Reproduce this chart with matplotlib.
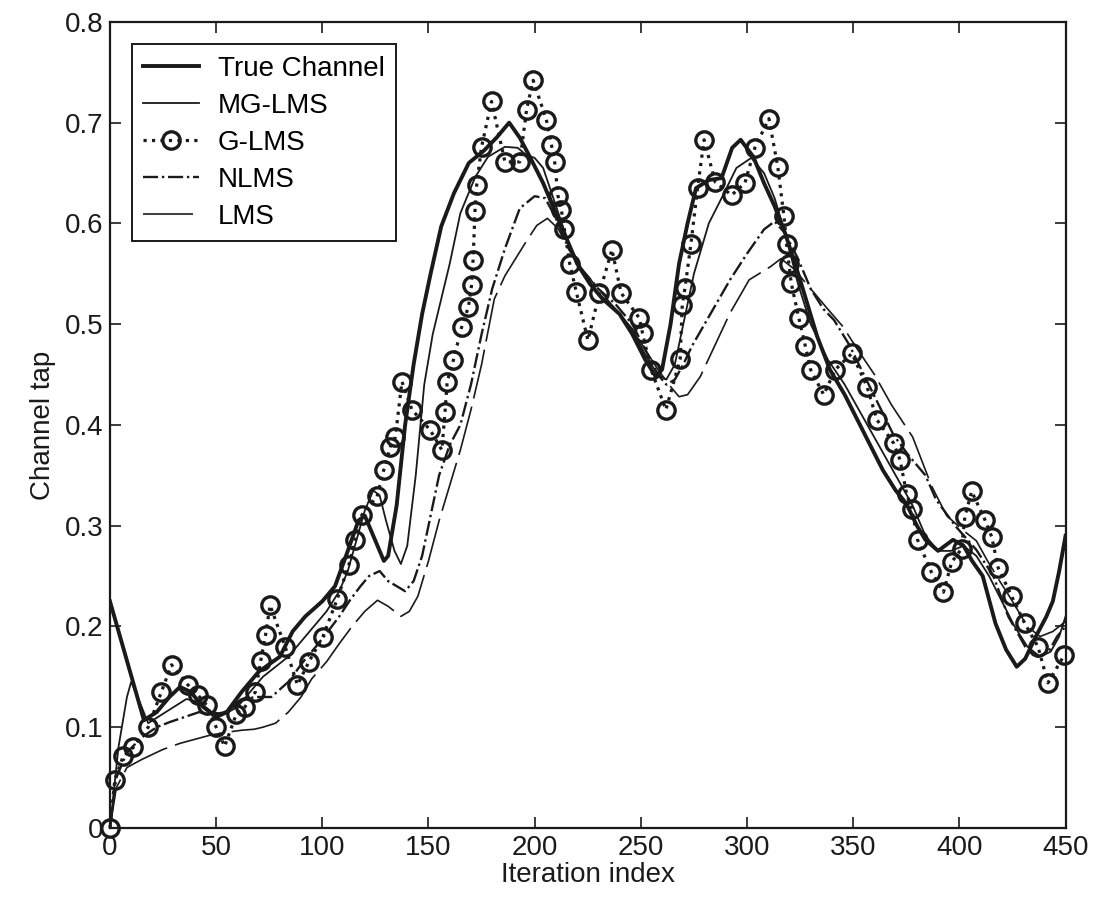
import numpy as np
import matplotlib.pyplot as plt

plt.rcParams['font.family'] = ['Liberation Sans', 'DejaVu Sans']

# True channel (thick solid)
true_x = [0, 16, 22, 28, 33, 38, 44, 50, 55, 62, 70, 80, 86, 92, 100, 106, 112, 117, 120, 125, 129, 131,
          135, 139, 143, 147, 151, 156, 162, 169, 176, 182, 188, 193, 198, 204, 210, 215, 220, 226, 232,
          240, 246, 252, 257, 260, 264, 268, 272, 276, 282, 288, 293, 297, 303, 308, 313, 318, 325, 333,
          339, 346, 352, 358, 364, 370, 375, 380, 384, 390, 397, 402, 406, 411, 417, 422, 427, 431, 436,
          441, 444, 447, 450]
true_y = [0.225, 0.107, 0.115, 0.13, 0.14, 0.135, 0.12, 0.11, 0.115, 0.135, 0.155, 0.17, 0.195, 0.21,
          0.225, 0.24, 0.275, 0.305, 0.31, 0.285, 0.265, 0.27, 0.32, 0.40, 0.46, 0.51, 0.55, 0.597, 0.63,
          0.66, 0.672, 0.685, 0.70, 0.685, 0.665, 0.64, 0.61, 0.585, 0.56, 0.54, 0.525, 0.51, 0.49, 0.465,
          0.448, 0.455, 0.50, 0.56, 0.60, 0.635, 0.643, 0.645, 0.675, 0.683, 0.666, 0.64, 0.617, 0.59,
          0.544, 0.488, 0.455, 0.43, 0.405, 0.38, 0.355, 0.335, 0.322, 0.3, 0.286, 0.275, 0.286, 0.28,
          0.265, 0.25, 0.203, 0.177, 0.16, 0.168, 0.19, 0.21, 0.225, 0.255, 0.29]

# MG-LMS (thin solid)
mg_x = [0, 4, 8, 10, 14, 18, 24, 30, 36, 42, 48, 54, 60, 66, 72, 78, 84, 90, 96, 102, 108, 112, 116,
        120, 124, 127, 130, 134, 137, 140, 144, 148, 152, 156, 160, 165, 172, 178, 186, 192, 196, 200,
        204, 208, 212, 216, 222, 230, 238, 246, 252, 258, 262, 266, 270, 275, 282, 288, 295, 302, 308,
        313, 318, 324, 330, 338, 346, 354, 362, 370, 378, 384, 390, 396, 402, 408, 414, 420, 426, 432,
        438, 443, 447, 450]
mg_y = [0.0, 0.08, 0.13, 0.145, 0.125, 0.104, 0.112, 0.12, 0.128, 0.125, 0.115, 0.113, 0.12, 0.135,
        0.15, 0.16, 0.17, 0.185, 0.2, 0.215, 0.235, 0.255, 0.285, 0.315, 0.335, 0.33, 0.305, 0.275, 0.262,
        0.28, 0.35, 0.44, 0.49, 0.525, 0.56, 0.61, 0.646, 0.666, 0.676, 0.675, 0.668, 0.665, 0.655, 0.63,
        0.605, 0.58, 0.555, 0.53, 0.515, 0.495, 0.47, 0.45, 0.445, 0.46, 0.5, 0.55, 0.6, 0.625, 0.655,
        0.665, 0.65, 0.625, 0.59, 0.54, 0.5, 0.465, 0.44, 0.41, 0.38, 0.35, 0.32, 0.29, 0.275, 0.275,
        0.28, 0.27, 0.25, 0.225, 0.2, 0.18, 0.17, 0.175, 0.19, 0.21]

# G-LMS (dotted with circle markers)
g_x = [0, 2.3, 6.2, 11, 18, 24.2, 29, 36.7, 41.4, 45.5, 50, 54, 59.5, 63.5, 68.5, 71, 73.3, 75.4, 82.5,
       88.3, 93.7, 100.3, 107, 112.5, 115.6, 118.7, 125.8, 128.9, 132, 134.4, 137.5, 142.2, 150.8, 156.3,
       157.8, 158.8, 161.7, 165.6, 168.8, 170.3, 171, 171.9, 172.7, 175, 179.7, 186, 193, 196.2, 199.3,
       205.5, 207.9, 209.4, 211, 212.6, 214, 216.5, 219.6, 225.1, 230.5, 236.4, 240.7, 249.3, 250.8,
       254.8, 261.8, 268.5, 269.5, 270.8, 273.6, 276.7, 279.8, 285, 292.7, 299, 303.7, 310.3, 314.5,
       317.4, 318.6, 319.7, 320.8, 324.4, 327.5, 329.9, 336.1, 341.6, 349.4, 356.5, 361.2, 369, 372.1,
       375.2, 377.6, 380.3, 386.8, 392.5, 396.4, 401, 402.6, 405.8, 412, 415.2, 418.3, 424.6, 430.8,
       437, 441.7, 449.5]
g_y = [0.0, 0.048, 0.071, 0.08, 0.10, 0.135, 0.162, 0.142, 0.132, 0.122, 0.10, 0.081, 0.113, 0.12,
       0.135, 0.166, 0.192, 0.221, 0.18, 0.142, 0.165, 0.19, 0.227, 0.261, 0.286, 0.311, 0.329, 0.355,
       0.378, 0.388, 0.443, 0.415, 0.395, 0.375, 0.413, 0.443, 0.464, 0.497, 0.517, 0.539, 0.564, 0.612,
       0.638, 0.676, 0.721, 0.661, 0.661, 0.713, 0.742, 0.703, 0.678, 0.661, 0.627, 0.613, 0.594, 0.56,
       0.532, 0.484, 0.531, 0.574, 0.531, 0.506, 0.491, 0.455, 0.415, 0.465, 0.519, 0.536, 0.58, 0.635,
       0.683, 0.641, 0.628, 0.64, 0.675, 0.704, 0.656, 0.607, 0.58, 0.56, 0.541, 0.506, 0.478, 0.455,
       0.43, 0.455, 0.471, 0.438, 0.405, 0.382, 0.365, 0.331, 0.317, 0.286, 0.254, 0.234, 0.264, 0.277,
       0.309, 0.334, 0.306, 0.289, 0.258, 0.23, 0.203, 0.18, 0.144, 0.172]

# NLMS (dash-dot)
nlms_x = [0, 3, 8, 15, 22, 28, 35, 42, 48, 54, 60, 68, 76, 84, 91, 97, 103, 108, 113, 118, 122, 127,
          131, 135, 139, 143, 147, 151, 155, 160, 165, 170, 175, 180, 186, 193, 200, 205, 210, 216, 222,
          230, 238, 246, 252, 258, 262, 266, 270, 274, 283, 292, 300, 308, 313, 318, 324, 330, 336, 341,
          348, 355, 362, 369, 376, 384, 389, 398, 408, 416, 423, 431, 437, 442, 446, 450]
nlms_y = [0.0, 0.05, 0.075, 0.09, 0.1, 0.105, 0.11, 0.115, 0.112, 0.115, 0.125, 0.13, 0.13, 0.145,
          0.165, 0.18, 0.196, 0.21, 0.226, 0.24, 0.25, 0.255, 0.245, 0.24, 0.235, 0.245, 0.27, 0.31, 0.35,
          0.38, 0.40, 0.44, 0.49, 0.535, 0.575, 0.615, 0.627, 0.625, 0.605, 0.575, 0.555, 0.535, 0.52, 0.5,
          0.475, 0.45, 0.44, 0.445, 0.46, 0.478, 0.511, 0.544, 0.57, 0.594, 0.602, 0.59, 0.565, 0.535,
          0.515, 0.504, 0.48, 0.45, 0.42, 0.39, 0.37, 0.35, 0.326, 0.30, 0.276, 0.25, 0.21, 0.18, 0.17,
          0.175, 0.19, 0.2]

# LMS (thin, long dashes)
lms_x = [0, 3, 8, 15, 25, 33, 40, 47, 55, 62, 68, 72, 78, 84, 90, 95, 102, 108, 114, 120, 126, 131,
         137, 141, 145, 150, 155, 160, 165, 170, 175, 181, 186, 191, 196, 201, 206, 211, 216, 222, 230,
         238, 246, 252, 258, 264, 268, 272, 278, 286, 292, 301, 311, 316, 322, 330, 338, 345, 352, 360,
         368, 378, 387, 394, 402, 408, 413, 419, 425, 432, 438, 444, 450]
lms_y = [0.0, 0.04, 0.06, 0.068, 0.078, 0.084, 0.088, 0.092, 0.095, 0.097, 0.098, 0.1, 0.104, 0.115,
         0.13, 0.148, 0.165, 0.183, 0.2, 0.215, 0.226, 0.22, 0.21, 0.215, 0.23, 0.265, 0.305, 0.34, 0.375,
         0.415, 0.46, 0.525, 0.548, 0.565, 0.582, 0.598, 0.605, 0.595, 0.575, 0.555, 0.535, 0.515, 0.495,
         0.475, 0.455, 0.438, 0.428, 0.43, 0.448, 0.484, 0.511, 0.544, 0.557, 0.565, 0.555, 0.535, 0.515,
         0.498, 0.475, 0.45, 0.42, 0.388, 0.339, 0.31, 0.295, 0.285, 0.266, 0.245, 0.225, 0.2, 0.19,
         0.195, 0.205]

fig = plt.figure(figsize=(10.94, 9.15), dpi=100)
ax = fig.add_axes([0.1005, 0.0951, 0.8735, 0.881])

ax.plot(true_x, true_y, color='#1a1a1a', lw=2.8, label='True Channel')
ax.plot(mg_x, mg_y, color='#1a1a1a', lw=1.3, label='MG-LMS')
ax.plot(g_x, g_y, color='#1a1a1a', lw=2.3, ls=':', marker='o', ms=12.5, mfc='none', mew=2.4,
        label='G-LMS', clip_on=False)
ax.plot(nlms_x, nlms_y, color='#1a1a1a', lw=1.7, ls='-.', label='NLMS')
ax.plot(lms_x, lms_y, color='#1a1a1a', lw=1.2, ls=(0, (30, 5)), label='LMS')

ax.set_xlim(0, 450)
ax.set_ylim(0, 0.8)
ax.set_xticks(np.arange(0, 451, 50))
ax.set_yticks(np.arange(0, 0.81, 0.1))
ax.set_yticklabels(['0', '0.1', '0.2', '0.3', '0.4', '0.5', '0.6', '0.7', '0.8'])
ax.tick_params(direction='in', length=8, width=1.2, top=True, right=True, labelsize=20, pad=5,
               colors='#1a1a1a')
for s in ax.spines.values():
    s.set_linewidth(1.6)
    s.set_color('#1a1a1a')

ax.set_xlabel('Iteration index', fontsize=20, labelpad=1, color='#1a1a1a')
ax.set_ylabel('Channel tap', fontsize=20, labelpad=6, color='#1a1a1a')

leg = ax.legend(loc='upper left', bbox_to_anchor=(0.023, 0.972), fontsize=20, fancybox=False,
                edgecolor='#1a1a1a', framealpha=1, borderaxespad=0, handlelength=2.0,
                labelspacing=0.4, borderpad=0.4, handletextpad=0.7)
leg.get_frame().set_linewidth(1.4)

fig.savefig('out.png', dpi=100)
